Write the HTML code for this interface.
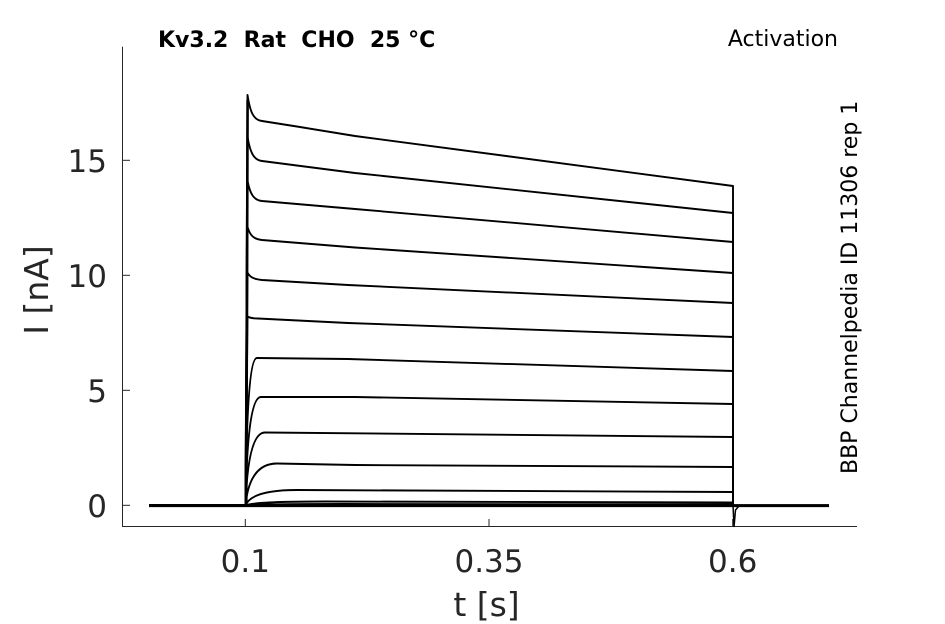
<!DOCTYPE html>
<html>
<head>
<meta charset="utf-8">
<style>
  html, body { margin: 0; padding: 0; background: #ffffff; }
  svg { display: block; }
  text { font-family: "DejaVu Sans", "Liberation Sans", sans-serif; }
</style>
</head>
<body>
<svg width="945" height="624" viewBox="0 0 945 624" xmlns="http://www.w3.org/2000/svg">
  <rect x="0" y="0" width="945" height="624" fill="#ffffff"/>

  <!-- Axes -->
  <path d="M122.5,46.7 V526.5 H857" fill="none" stroke="#262626" stroke-width="1"/>
  <!-- Y ticks -->
  <g stroke="#262626" stroke-width="1">
    <line x1="122.5" y1="505.3" x2="130" y2="505.3"/>
    <line x1="122.5" y1="390.3" x2="130" y2="390.3"/>
    <line x1="122.5" y1="275.3" x2="130" y2="275.3"/>
    <line x1="122.5" y1="160.3" x2="130" y2="160.3"/>
    <!-- X ticks -->
    <line x1="245.3" y1="526.5" x2="245.3" y2="519"/>
    <line x1="489" y1="526.5" x2="489" y2="519"/>
    <line x1="732.7" y1="526.5" x2="732.7" y2="519"/>
  </g>

  <!-- Tick labels -->
  <g font-size="31" fill="#262626">
    <text x="107" y="517" text-anchor="end">0</text>
    <text x="107" y="402" text-anchor="end">5</text>
    <text x="107" y="287" text-anchor="end">10</text>
    <text x="107" y="172" text-anchor="end">15</text>
    <text x="245.3" y="572" text-anchor="middle">0.1</text>
    <text x="489" y="572" text-anchor="middle">0.35</text>
    <text x="732.7" y="572" text-anchor="middle">0.6</text>
  </g>

  <!-- Axis labels -->
  <text x="486.5" y="616" font-size="33" fill="#262626" text-anchor="middle">t [s]</text>
  <text transform="translate(48,290) rotate(-90)" font-size="33" fill="#262626" text-anchor="middle">I [nA]</text>

  <!-- Title / annotations -->
  <text x="158" y="47" font-size="22" font-weight="bold" fill="#000" style="white-space:pre" xml:space="preserve">Kv3.2  Rat  CHO  25 °C</text>
  <text x="838" y="46" font-size="22" fill="#000" text-anchor="end">Activation</text>
  <text transform="translate(857,474) rotate(-90)" font-size="22" fill="#000">BBP Channelpedia ID 11306 rep 1</text>

  <!-- Traces -->
  <g fill="none" stroke="#000" stroke-width="1.9" stroke-linejoin="round">
    <!-- decaying (inactivating) traces -->
    <path d="M149,505.3 H245.5 L247.5,95 C250,111 253,120 262,121 L300,127 L355,136 L733,186 V505.3 H829"/>
    <path d="M149,505.3 H245.5 L247.5,137 C250,151 253,160 262,161 L355,173 L733,213 V505.3"/>
    <path d="M149,505.3 H245.5 L247.5,181 C250,193 253,200 262,201 L355,209 L733,242 V505.3"/>
    <path d="M149,505.3 H245.5 L247.5,227 C250,235 253,239 262,240 L355,247.5 L733,273 V505.3"/>
    <path d="M149,505.3 H245.5 L247.5,272.7 C250,277 253,279 262,280 L348,285 L733,303 V505.3"/>
    <path d="M149,505.3 H245.5 L247.5,316.5 C250,318 253,318.5 258,318.5 L348,323 L733,337 V505.3"/>
    <!-- rising traces -->
    <path d="M149,505.3 H245.5 C246.4,416.9 249.5,358 257,358 L348,359 L733,371 V505.3"/>
    <path d="M149,505.3 H245.5 C246.7,440.3 251,397 261,397 L355,397 L733,404 V505.3"/>
    <path d="M149,505.3 H245.5 C247,461.6 252.5,432.5 265,432.5 L355,433.3 L733,437 V505.3"/>
    <path d="M149,505.3 H245.5 C247.9,480.2 257,463.5 277,463.5 L355,465 L733,467 V505.3"/>
    <path d="M149,505.3 H245.5 C249.4,496.1 264.5,490 297,490 L733,492 V505.3"/>
    <path d="M149,505.3 H245.5 C251.5,503 275,501.5 325,501.5 L733,502.5 V505.3"/>
    <path d="M149,505.3 H245.5 C253,504.5 282,504 345,504 L733,504.5 V505.3"/>
  </g>
  <!-- thick overlapping baseline and onset bar -->
  <line x1="149" y1="505.6" x2="829" y2="505.6" stroke="#000" stroke-width="3"/>
  <line x1="246.3" y1="505.3" x2="247.6" y2="100" stroke="#000" stroke-width="2.6"/>
  <!-- tail spike at step end -->
  <path d="M733,505.3 L734,527 L735.5,510 L739,506" fill="none" stroke="#000" stroke-width="1.5"/>
</svg>
</body>
</html>
